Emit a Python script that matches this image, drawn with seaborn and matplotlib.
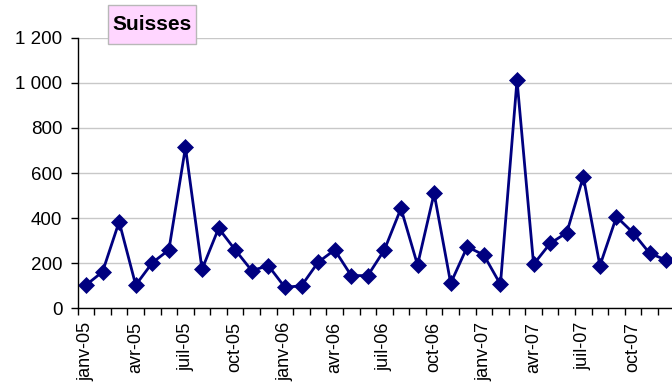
import matplotlib
matplotlib.use("Agg")
import matplotlib.pyplot as plt
from matplotlib.patches import Rectangle
import seaborn as sns
import pandas as pd
import numpy as np

# Data: monthly values, janv-05 .. déc-07
months = ["janv-05", "févr-05", "mars-05", "avr-05", "mai-05", "juin-05",
          "juil-05", "août-05", "sept-05", "oct-05", "nov-05", "déc-05",
          "janv-06", "févr-06", "mars-06", "avr-06", "mai-06", "juin-06",
          "juil-06", "août-06", "sept-06", "oct-06", "nov-06", "déc-06",
          "janv-07", "févr-07", "mars-07", "avr-07", "mai-07", "juin-07",
          "juil-07", "août-07", "sept-07", "oct-07", "nov-07", "déc-07"]
values = [103, 162, 384, 103, 202, 259, 714, 173, 355, 259, 167, 189,
          93, 100, 204, 259, 145, 145, 259, 443, 192, 510, 111, 273,
          236, 106, 1012, 195, 288, 335, 584, 189, 406, 335, 244, 214]
yticks = [0, 200, 400, 600, 800, 1000, 1200]
ytick_labels = ["0", "200", "400", "600", "800", "1 000", "1 200"]
title = "Suisses"

sns.set_theme(style="white")
plt.rcParams["font.family"] = ["Liberation Sans", "DejaVu Sans"]

df = pd.DataFrame({"pos": np.arange(len(values)) + 0.5, "val": values})

W, H = 672, 385
fig = plt.figure(figsize=(W / 100, H / 100), dpi=100)
ax = fig.add_axes([77.7 / W, 1 - 308.3 / H, (674.5 - 77.7) / W, (308.3 - 37.7) / H])

sns.lineplot(data=df, x="pos", y="val", ax=ax, color="#000080", linewidth=2.0,
             marker="D", markersize=8, markeredgecolor="#000080", markeredgewidth=0.5)

ax.set_xlim(0, len(values))
ax.set_ylim(0, 1200)
ax.set_yticks(yticks)
ax.set_yticklabels(ytick_labels, fontsize=13.5, color="black")

# category boundaries as tick marks, labels centred every 3 months
ax.set_xticks(np.arange(0, len(values) + 1))
ax.set_xticklabels([])
lab_idx = list(range(0, len(values), 3))
ax.set_xticks([i + 0.5 for i in lab_idx], minor=True)
ax.set_xticklabels([months[i] for i in lab_idx], minor=True, rotation=90,
                   fontsize=13, color="black")
ax.tick_params(axis="x", which="major", direction="out", length=5, width=1, color="black", bottom=True)
ax.tick_params(axis="x", which="minor", length=0, pad=10, bottom=True)
ax.tick_params(axis="y", which="major", direction="out", length=5, width=1, color="black", pad=6, left=True)

ax.set_xlabel("")
ax.set_ylabel("")
ax.yaxis.grid(True, color="#C8C8C8", linewidth=1)
ax.xaxis.grid(False)
ax.set_axisbelow(True)
for s in ["top", "right"]:
    ax.spines[s].set_visible(False)
for s in ["left", "bottom"]:
    ax.spines[s].set_color("black")
    ax.spines[s].set_linewidth(1)

# title box
bx0, bx1, by0, by1 = 108, 196, 5, 44
fig.patches.append(Rectangle((bx0 / W, 1 - by1 / H), (bx1 - bx0) / W, (by1 - by0) / H,
                             transform=fig.transFigure, facecolor="#FFD6FF",
                             edgecolor="#B8B8B8", linewidth=1, zorder=5))
fig.text((bx0 + bx1) / 2 / W, 1 - (by0 + by1) / 2 / H, title, ha="center", va="center",
         fontsize=15, fontweight="bold", color="black", zorder=6)

fig.savefig("out.png", dpi=100)
